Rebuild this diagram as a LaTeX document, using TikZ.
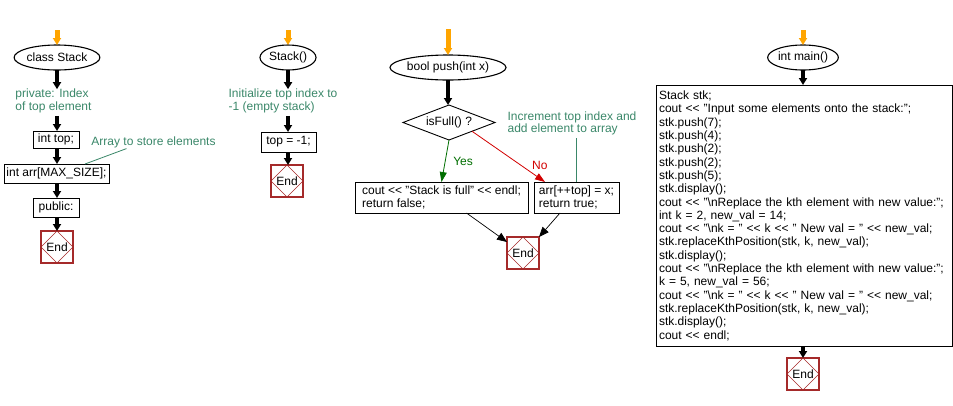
\documentclass[tikz,border=0pt]{standalone}
\usepackage{fontspec}
\setmainfont{Liberation Sans}[Ligatures=ResetAll]
\usetikzlibrary{shapes.geometric,arrows.meta}
\definecolor{cmt}{RGB}{58,135,105}
\definecolor{endc}{RGB}{165,42,42}
\definecolor{starto}{RGB}{255,165,0}
\definecolor{yesg}{RGB}{0,110,0}
\definecolor{nor}{RGB}{210,0,0}
\newcommand\shl{<\kern0pt<}
\begin{document}
\begin{tikzpicture}[x=1pt,y=-1pt,
  font=\fontsize{12}{12.5}\selectfont,
  every node/.style={inner sep=0pt, outer sep=0pt},
  startarr/.style={draw=starto, line width=5pt, -{Triangle[length=7pt,width=8pt,fill=starto]}},
  flow/.style={draw=black, line width=4pt, -{Triangle[length=7pt,width=8pt]}},
  thinarr/.style={draw=black, line width=0.7pt, -{Triangle[length=10pt,width=8pt]}},
  yesarr/.style={draw=yesg, line width=0.8pt, -{Triangle[length=10pt,width=7pt]}},
  noarr/.style={draw=nor, line width=0.8pt, -{Triangle[length=10pt,width=7pt]}},
  term/.style={draw=black, line width=1.1pt, ellipse, minimum height=25pt},
  box/.style={draw=black, line width=1pt, minimum height=19pt, align=left},
  cbox/.style={draw=black, line width=1pt, align=left, anchor=north west, inner xsep=3pt, inner ysep=5pt},
  comment/.style={text=cmt, align=left},
  endnode/.style={draw=endc, line width=1.1pt, minimum width=32pt, minimum height=32pt,
    path picture={\draw[endc, line width=0.6pt] (path picture bounding box.north) -- (path picture bounding box.east) -- (path picture bounding box.south) -- (path picture bounding box.west) -- cycle;}},
  cmtline/.style={draw=cmt, line width=0.8pt}
]
\useasboundingbox (0,0) rectangle (953,405);

% ---------- column 1 : class Stack ----------
\coordinate (s1) at (57,30);
\node[term, minimum width=79pt] (e1) at (57,57.5) {class Stack};
\node[comment] (c1) at (53.5,101) {private: Index\\of top element};
\node[box, minimum width=46pt, minimum height=17pt] (b1) at (56,139.5) {int top;};
\node[box, minimum width=105pt] (b2) at (56.5,173.5) {int arr[MAX\_SIZE];};
\node[box, minimum width=46pt] (b3) at (56,207.5) {public:};
\node[endnode] (end1) at (57,247) {End};
\node[comment] (a1) at (153.5,142) {Array to store elements};

\draw[startarr] (s1) -- (e1.north);
\draw[flow] (e1.south) -- (e1.south |- c1.north);
\draw[flow] ([yshift=-3pt]e1.south |- c1.south) -- (e1.south |- b1.north);
\draw[flow] (e1.south |- b1.south) -- (e1.south |- b2.north);
\draw[flow] (e1.south |- b2.south) -- (e1.south |- b3.north);
\draw[flow] (e1.south |- b3.south) -- (end1.north);
\draw[cmtline] ([xshift=35pt,yshift=-1pt]a1.south west) -- ([xshift=81pt]b2.north west);

% ---------- column 2 : Stack() ----------
\coordinate (s2) at (288,30);
\node[term, minimum width=56pt] (e2) at (288,57.5) {Stack()};
\node[comment] (c2) at (283,101) {Initialize top index to\\-1 (empty stack)};
\node[box, minimum width=55pt, minimum height=20pt] (b4) at (288.5,142) {top = -1;};
\node[endnode] (end2) at (287,181) {End};

\draw[startarr] (s2) -- (e2.north);
\draw[flow] (e2.south) -- (e2.south |- c2.north);
\draw[flow] ([yshift=-3pt]e2.south |- c2.south) -- (e2.south |- b4.north);
\draw[flow] (e2.south |- b4.south) -- (e2.south |- end2.north);

% ---------- column 3 : bool push(int x) ----------
\coordinate (s3) at (448,29);
\node[term, minimum width=100pt] (e3) at (448,67.5) {bool push(int x)};
\node[diamond, draw=black, line width=0.9pt, minimum width=92pt, minimum height=35pt, aspect=2.63] (d1) at (449,122.5) {isFull() ?};
\node[box, minimum width=173pt, minimum height=31pt, inner xsep=3pt] (bl) at (441.5,197.5) {cout \shl\ "Stack is full" \shl\ endl;\\return false;};
\node[box, minimum width=85pt, minimum height=31pt, inner xsep=3pt] (br) at (576.5,197.5) {arr[++top] = x;\\return true;};
\node[comment] (c3) at (572,123.5) {Increment top index and\\add element to array};
\node[endnode] (end3) at (523,253) {End};

\draw[startarr] (s3) -- (e3.north);
\draw[flow] (e3.south) -- (e3.south |- d1.north);
\draw[yesarr] (d1.south) -- (bl.north) node[pos=0.5, right=8pt, text=yesg] {Yes};
\draw[noarr] (d1.south east) -- ([xshift=11pt]br.north west) node[pos=0.93, above=9pt, text=nor] {No};
\draw[cmtline] ([yshift=-3pt]br.north |- c3.south) -- (br.north);
\draw[thinarr] ([xshift=25pt]bl.south) -- ([yshift=-5pt]end3.north west);
\draw[thinarr] ([xshift=-16.5pt]br.south) -- (end3.north east);

% ---------- column 4 : int main() ----------
\coordinate (s4) at (803,30);
\node[term, minimum width=68pt] (e4) at (803,57.5) {int main()};
\node[cbox, text width=290pt, minimum height=259pt, inner ysep=6pt, font=\fontsize{12}{13.3}\selectfont] (mb) at (656,85) {Stack stk;\\
cout \shl\ "Input some elements onto the stack:";\\
stk.push(7);\\
stk.push(4);\\
stk.push(2);\\
stk.push(2);\\
stk.push(5);\\
stk.display();\\
cout \shl\ "\textbackslash nReplace the kth element with new value:";\\
int k = 2, new\_val = 14;\\
cout \shl\ "\textbackslash nk = " \shl\ k \shl\ " New val = " \shl\ new\_val;\\
stk.replaceKthPosition(stk, k, new\_val);\\
stk.display();\\
cout \shl\ "\textbackslash nReplace the kth element with new value:";\\
k = 5, new\_val = 56;\\
cout \shl\ "\textbackslash nk = " \shl\ k \shl\ " New val = " \shl\ new\_val;\\
stk.replaceKthPosition(stk, k, new\_val);\\
stk.display();\\
cout \shl\ endl;};
\node[endnode] (end4) at (803,374) {End};

\draw[startarr] (s4) -- (e4.north);
\draw[flow] (e4.south) -- (e4.south |- mb.north);
\draw[flow] (e4.south |- mb.south) -- (end4.north);
\end{tikzpicture}
\end{document}
